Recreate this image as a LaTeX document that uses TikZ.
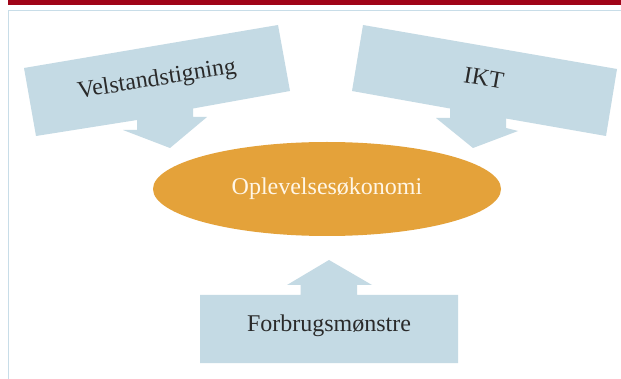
\documentclass[tikz,border=0pt]{standalone}
\usepackage{fontspec}
\setmainfont{Liberation Serif}
\usetikzlibrary{shapes.geometric}
\definecolor{boxblue}{HTML}{C4DAE4}
\definecolor{frameblue}{HTML}{C8DDE8}
\definecolor{ovalorange}{HTML}{E4A23A}
\definecolor{barred}{HTML}{A00418}
\definecolor{txtdark}{HTML}{2A2A2A}
\definecolor{txtlight}{HTML}{FFF6E6}
\tikzset{
  callout/.style={fill=boxblue, draw=none},
  lbl/.style={font=\fontsize{24}{26}\selectfont, text=txtdark, inner sep=0pt},
}
\begin{document}
\begin{tikzpicture}[x=1pt,y=-1pt]
\useasboundingbox (0,0) rectangle (621,379);
\fill[white] (0,0) rectangle (621,379);
% top bar and frame
\fill[barred] (8,0) rectangle (621,5);
\draw[frameblue, line width=1.5pt] (8.5,379) -- (8.5,10.5) -- (621,10.5);
% left callout
\fill[callout] (24,68) -- (278,25) -- (290,91) -- (193,108.5) -- (193,117) -- (207,117)
  -- (170,148) -- (123,130) -- (137,130) -- (137,120) -- (36,136) -- cycle;
% right callout
\fill[callout] (363,25) -- (617,69) -- (606,136) -- (506,118.5) -- (506,128) -- (518,131)
  -- (473,148) -- (436,118) -- (450,118) -- (450,108.5) -- (352,91) -- cycle;
% bottom callout
\fill[callout] (200,295) -- (300.5,295) -- (300.5,285) -- (287,285) -- (329,260)
  -- (372,285) -- (357,285) -- (357,295) -- (458,295) -- (458,363) -- (200,363) -- cycle;
% ellipse
\node[ellipse, fill=ovalorange, minimum width=348pt, minimum height=94pt, inner sep=0pt,
  font=\fontsize{24}{26}\selectfont, text=txtlight] (oval) at (327,189) {Oplevelsesøkonomi};
% labels
\node[lbl, rotate=9] (velst) at (157,80) {Velstandstigning};
\node[lbl, rotate=-10] (ikt) at (484,78) {IKT};
\node[lbl] (forb) at (329,326) {Forbrugsmønstre};
\end{tikzpicture}
\end{document}
